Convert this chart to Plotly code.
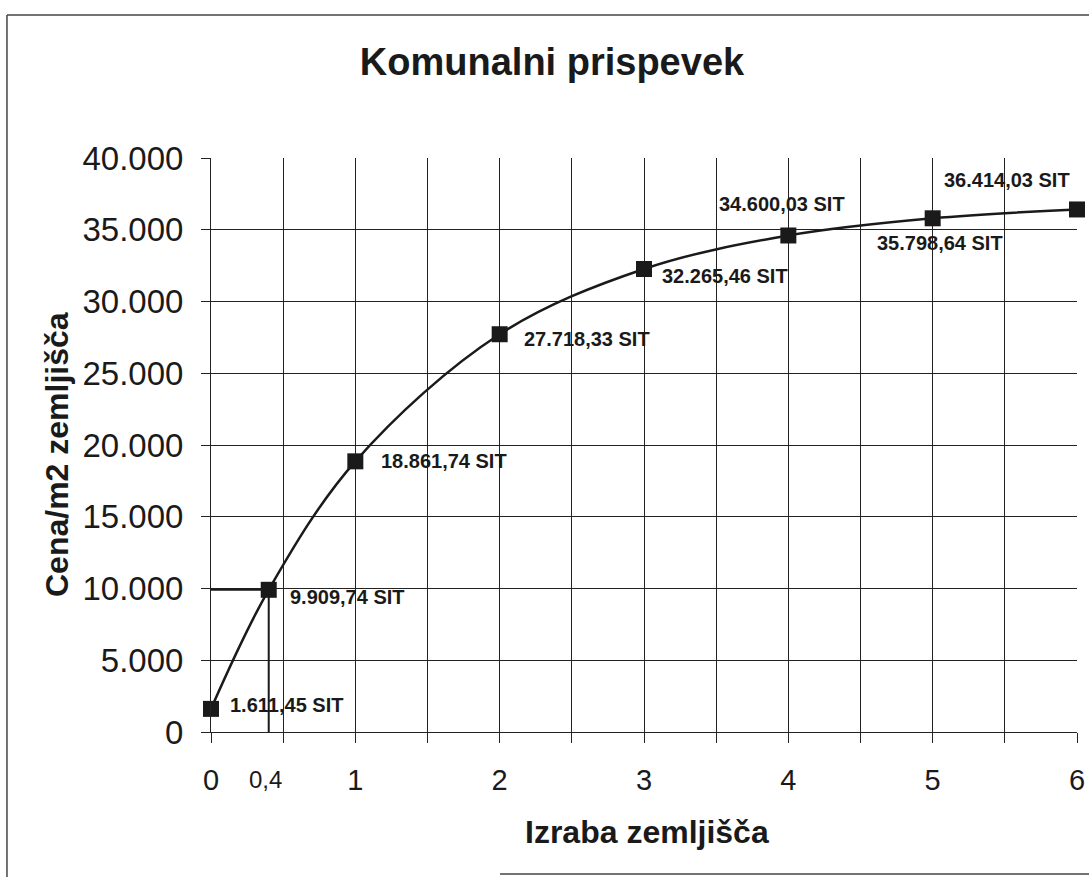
import plotly.graph_objects as go

# ---- data ----
izraba = [0, 0.4, 1, 2, 3, 4, 5, 6]
cena = [1611.45, 9909.74, 18861.74, 27718.33, 32265.46, 34600.03, 35798.64, 36414.03]
labels = ["1.611,45 SIT", "9.909,74 SIT", "18.861,74 SIT", "27.718,33 SIT",
          "32.265,46 SIT", "34.600,03 SIT", "35.798,64 SIT", "36.414,03 SIT"]

x_tick_vals = [0, 0.5, 1, 1.5, 2, 2.5, 3, 3.5, 4, 4.5, 5, 5.5, 6]
x_tick_text = ["0", "", "1", "", "2", "", "3", "", "4", "", "5", "", "6"]
y_tick_vals = [0, 5000, 10000, 15000, 20000, 25000, 30000, 35000, 40000]
y_tick_text = ["0", "5.000", "10.000", "15.000", "20.000", "25.000", "30.000", "35.000", "40.000"]

ref_x = 0.4
ref_label = "0,4"
ref_y = 9909.74

title = "Komunalni prispevek"
x_title = "Izraba zemljišča"
y_title = "Cena/m2 zemljišča"

# label placement (anchor, xshift, yshift) per point
label_pos = [("left", 17, 4), ("left", 19, -7), ("left", 24, 0), ("left", 22, -5),
             ("left", 16, -7), ("center", -6, 31), ("center", 7, -25), ("right", -5, 29)]

FONT = "Liberation Sans, Arial, sans-serif"
INK = "#1a1a1a"

W, H = 1089, 877

fig = go.Figure()

# reference lines for 0,4
fig.add_trace(go.Scatter(
    x=[0, ref_x, ref_x], y=[ref_y, ref_y, 0],
    mode="lines", line=dict(color=INK, width=2), hoverinfo="skip", showlegend=False))

fig.add_trace(go.Scatter(
    x=izraba, y=cena, mode="lines+markers",
    line=dict(color=INK, width=2.5, shape="spline", smoothing=1),
    marker=dict(symbol="square", size=16, color=INK),
    showlegend=False, cliponaxis=False))

annotations = []
for xv, yv, t, (anc, dx, dy) in zip(izraba, cena, labels, label_pos):
    annotations.append(dict(x=xv, y=yv, xref="x", yref="y", text=t, showarrow=False,
                            xanchor=anc, yanchor="middle", xshift=dx, yshift=dy,
                            font=dict(family=FONT, size=20, color=INK, weight="bold")))

annotations.append(dict(x=ref_x, y=0, xref="x", yref="y", text=ref_label, showarrow=False,
                        xanchor="center", yanchor="middle", xshift=-3, yshift=-47,
                        font=dict(family=FONT, size=24, color=INK)))

annotations.append(dict(x=0.5035, y=-0.1742, xref="paper", yref="paper", text=x_title,
                        showarrow=False, xanchor="center", yanchor="middle",
                        font=dict(family=FONT, size=32, color=INK, weight="bold")))
annotations.append(dict(x=-0.1778, y=0.4826, xref="paper", yref="paper", text=y_title,
                        showarrow=False, xanchor="center", yanchor="middle", textangle=-90,
                        font=dict(family=FONT, size=32, color=INK, weight="bold")))

shapes = [
    dict(type="line", xref="paper", yref="paper", x0=-0.2356, x1=-0.2356, y0=1.2491, y1=-0.2526,
         line=dict(color="#444", width=1.5)),
    dict(type="line", xref="paper", yref="paper", x0=-0.2356, x1=1.0139, y0=1.2491, y1=1.2491,
         line=dict(color="#444", width=1.5)),
    dict(type="line", xref="paper", yref="paper", x0=0.3337, x1=1.0139, y0=-0.2474, y1=-0.2474,
         line=dict(color="#444", width=1.5)),
]

fig.update_layout(
    width=W, height=H,
    margin=dict(l=211, r=12, t=158, b=145),
    paper_bgcolor="white", plot_bgcolor="white",
    title=dict(text=title, x=552 / W, xref="container", xanchor="center",
               y=1 - 62 / H, yref="container", yanchor="middle",
               font=dict(family=FONT, size=38, color=INK, weight="bold")),
    annotations=annotations, shapes=shapes,
    showlegend=False,
)

fig.update_xaxes(range=[0, 6], tickvals=x_tick_vals, ticktext=x_tick_text,
                 showgrid=True, gridcolor="#222", gridwidth=1,
                 ticks="outside", ticklen=10, tickcolor="#222", tickwidth=1,
                 showline=True, linecolor="#222", linewidth=1,
                 zeroline=False, ticklabelstandoff=12, automargin=False,
                 tickfont=dict(family=FONT, size=29, color=INK))
fig.update_yaxes(range=[0, 40000], tickvals=y_tick_vals, ticktext=y_tick_text,
                 showgrid=True, gridcolor="#222", gridwidth=1,
                 ticks="outside", ticklen=9, tickcolor="#222", tickwidth=1,
                 showline=True, linecolor="#222", linewidth=1,
                 zeroline=False, ticklabelstandoff=11, automargin=False,
                 tickfont=dict(family=FONT, size=33, color=INK))

fig.write_html("out.html", config={"displayModeBar": False},
               post_script="document.body.style.margin='0';document.body.style.overflow='hidden';")
